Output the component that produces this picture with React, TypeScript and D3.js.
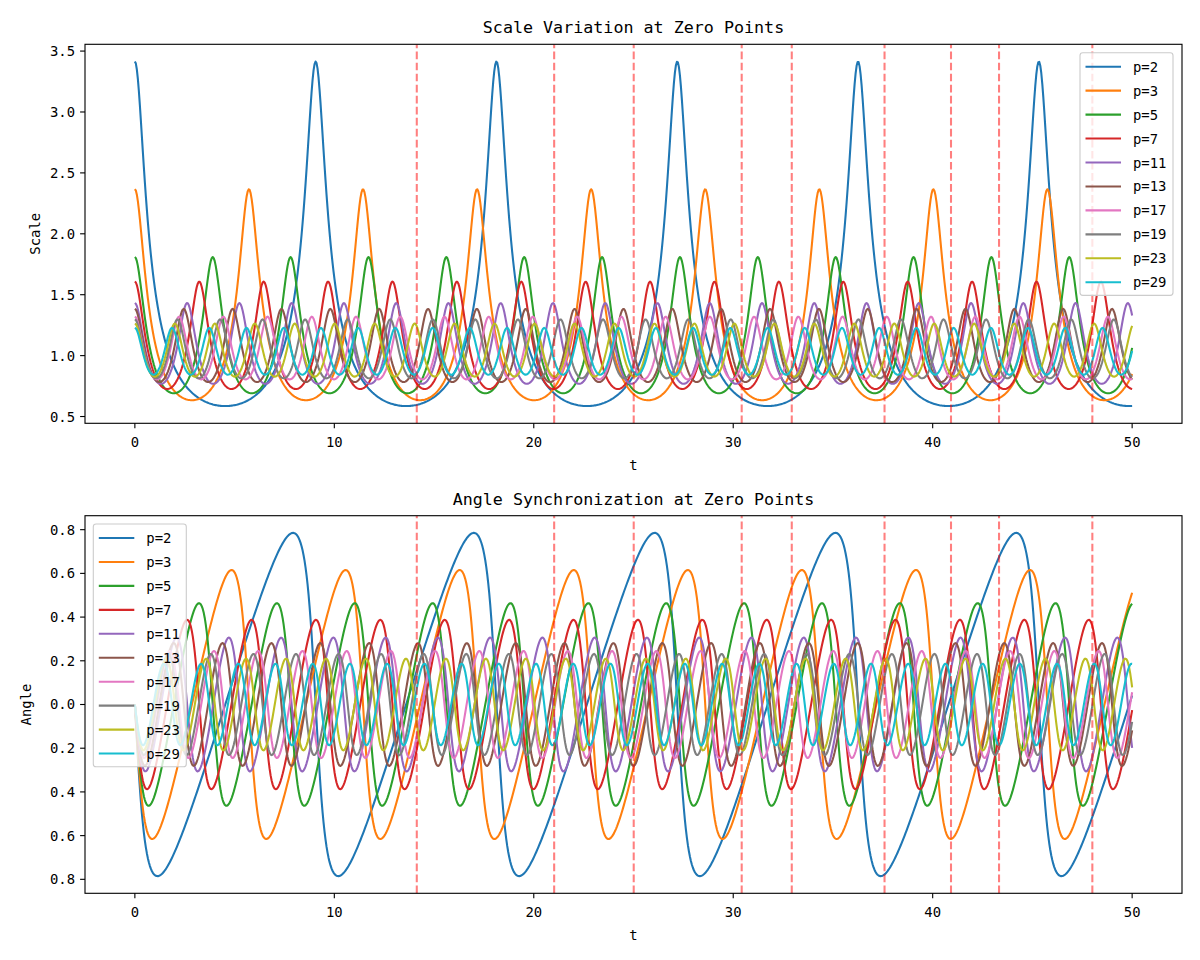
import React from 'react';
import * as d3 from 'd3';

// ---- data ----
const primes = [2, 3, 5, 7, 11, 13, 17, 19, 23, 29];
const seriesLabels = ['p=2', 'p=3', 'p=5', 'p=7', 'p=11', 'p=13', 'p=17', 'p=19', 'p=23', 'p=29'];
const seriesColors = ['#1f77b4', '#ff7f0e', '#2ca02c', '#d62728', '#9467bd', '#8c564b', '#e377c2', '#7f7f7f', '#bcbd22', '#17becf'];
// dashed verticals: first nine non-trivial zeta zeros
const zetaZeros = [14.134725, 21.02204, 25.010858, 30.424876, 32.935062, 37.586178, 40.918719, 43.327073, 48.005151];
const tStart = 0;
const tEnd = 50;
const sampleCount = 1000;
const xTicks = [0, 10, 20, 30, 40, 50];
const xTickLabels = ['0', '10', '20', '30', '40', '50'];
const scaleTicks = [0.5, 1.0, 1.5, 2.0, 2.5, 3.0, 3.5];
const scaleTickLabels = ['0.5', '1.0', '1.5', '2.0', '2.5', '3.0', '3.5'];
const angleTicks = [-0.8, -0.6, -0.4, -0.2, 0.0, 0.2, 0.4, 0.6, 0.8];
// the reference font has no minus glyph, so negative labels show without it
const angleTickLabels = ['0.8', '0.6', '0.4', '0.2', '0.0', '0.2', '0.4', '0.6', '0.8'];

// Euler-product factor 1/(1 - p^{-s}), s = 1/2 + i t, for each prime
function eulerFactor(p: number, t: number) {
  const r = Math.pow(p, -0.5);
  const th = t * Math.log(p);
  const re = 1 - r * Math.cos(th);
  const im = r * Math.sin(th);
  return { scale: 1 / Math.hypot(re, im), angle: -Math.atan2(im, re) };
}

const tValues = d3.range(sampleCount).map((i) => tStart + ((tEnd - tStart) * i) / (sampleCount - 1));
const scaleSeries = primes.map((p) => tValues.map((t) => ({ t, v: eulerFactor(p, t).scale })));
const angleSeries = primes.map((p) => tValues.map((t) => ({ t, v: eulerFactor(p, t).angle })));

const FONT = "'DejaVu Sans Mono', 'Liberation Mono', monospace";
const LEFT = 85;
const RIGHT = 1182;

type Pt = { t: number; v: number };

function Panel(props: {
  id: string;
  series: Pt[][];
  top: number;
  bottom: number;
  title: string;
  ylabel: string;
  ylabelX: number;
  yTicks: number[];
  yTickLabels: string[];
  legendX: number;
  legendY: number;
}) {
  const { id, series, top, bottom, title, ylabel, ylabelX, yTicks, yTickLabels, legendX, legendY } = props;
  const xPad = (tEnd - tStart) * 0.05;
  const x = d3.scaleLinear().domain([tStart - xPad, tEnd + xPad]).range([LEFT, RIGHT]);
  const all = series.flat().map((d) => d.v);
  const [lo, hi] = d3.extent(all) as [number, number];
  const yPad = (hi - lo) * 0.05;
  const y = d3.scaleLinear().domain([lo - yPad, hi + yPad]).range([bottom, top]);
  const line = d3
    .line<Pt>()
    .x((d) => x(d.t))
    .y((d) => y(d.v));
  const cx = (LEFT + RIGHT) / 2;
  const cy = (top + bottom) / 2;
  const legendW = 93;
  const rowGap = 23.95;
  const legendH = 242.7;
  return (
    <g>
      <defs>
        <clipPath id={`clip-${id}`}>
          <rect x={LEFT} y={top} width={RIGHT - LEFT} height={bottom - top} />
        </clipPath>
      </defs>
      <g clipPath={`url(#clip-${id})`}>
        {series.map((s, i) => (
          <path key={i} d={line(s) || ''} fill="none" stroke={seriesColors[i]} strokeWidth={2.08} strokeLinejoin="round" strokeLinecap="butt" />
        ))}
        {zetaZeros.map((z, i) => (
          <line key={i} x1={x(z)} x2={x(z)} y1={bottom} y2={top} stroke="red" strokeOpacity={0.5} strokeWidth={2.08} strokeDasharray="7.7 3.33" />
        ))}
      </g>
      {/* frame */}
      <rect x={LEFT} y={top} width={RIGHT - LEFT} height={bottom - top} fill="none" stroke="#000" strokeWidth={1.11} />
      {/* x ticks */}
      {xTicks.map((v, i) => (
        <g key={i}>
          <line x1={x(v)} x2={x(v)} y1={bottom} y2={bottom + 4.9} stroke="#000" strokeWidth={1.11} />
          <text x={x(v)} y={bottom + 23.4} textAnchor="middle" fontSize={13.9} fontFamily={FONT} fill="#000">
            {xTickLabels[i]}
          </text>
        </g>
      ))}
      {/* y ticks */}
      {yTicks.map((v, i) => (
        <g key={i}>
          <line x1={LEFT - 4.9} x2={LEFT} y1={y(v)} y2={y(v)} stroke="#000" strokeWidth={1.11} />
          <text x={LEFT - 10} y={y(v) + 5} textAnchor="end" fontSize={13.9} fontFamily={FONT} fill="#000">
            {yTickLabels[i]}
          </text>
        </g>
      ))}
      <text x={cx} y={top - 11} textAnchor="middle" fontSize={16.7} fontFamily={FONT} fill="#000">
        {title}
      </text>
      <text x={cx} y={bottom + 46.7} textAnchor="middle" fontSize={13.9} fontFamily={FONT} fill="#000">
        t
      </text>
      <text transform={`translate(${ylabelX},${cy}) rotate(-90)`} textAnchor="middle" fontSize={13.9} fontFamily={FONT} fill="#000">
        {ylabel}
      </text>
      {/* legend */}
      <g>
        <rect x={legendX} y={legendY} width={legendW} height={legendH} rx={2.8} ry={2.8} fill="#fff" fillOpacity={0.8} stroke="#cccccc" strokeWidth={1.11} />
        {seriesLabels.map((lab, i) => {
          const ry = legendY + 14 + i * rowGap;
          return (
            <g key={i}>
              <line x1={legendX + 5.5} x2={legendX + 41} y1={ry} y2={ry} stroke={seriesColors[i]} strokeWidth={2.08} />
              <text x={legendX + 53} y={ry + 5} fontSize={13.9} fontFamily={FONT} fill="#000">
                {lab}
              </text>
            </g>
          );
        })}
      </g>
    </g>
  );
}

export default function App() {
  return (
    <svg width={1200} height={960} viewBox="0 0 1200 960" style={{ position: 'absolute', left: 0, top: 0, display: 'block' }}>
      <rect x={0} y={0} width={1200} height={960} fill="#fff" />
      <Panel
        id="scale"
        series={scaleSeries}
        top={44.3}
        bottom={423.3}
        title="Scale Variation at Zero Points"
        ylabel="Scale"
        ylabelX={40}
        yTicks={scaleTicks}
        yTickLabels={scaleTickLabels}
        legendX={1080}
        legendY={52.7}
      />
      <Panel
        id="angle"
        series={angleSeries}
        top={515.7}
        bottom={893.3}
        title="Angle Synchronization at Zero Points"
        ylabel="Angle"
        ylabelX={31}
        yTicks={angleTicks}
        yTickLabels={angleTickLabels}
        legendX={93.3}
        legendY={524}
      />
    </svg>
  );
}
